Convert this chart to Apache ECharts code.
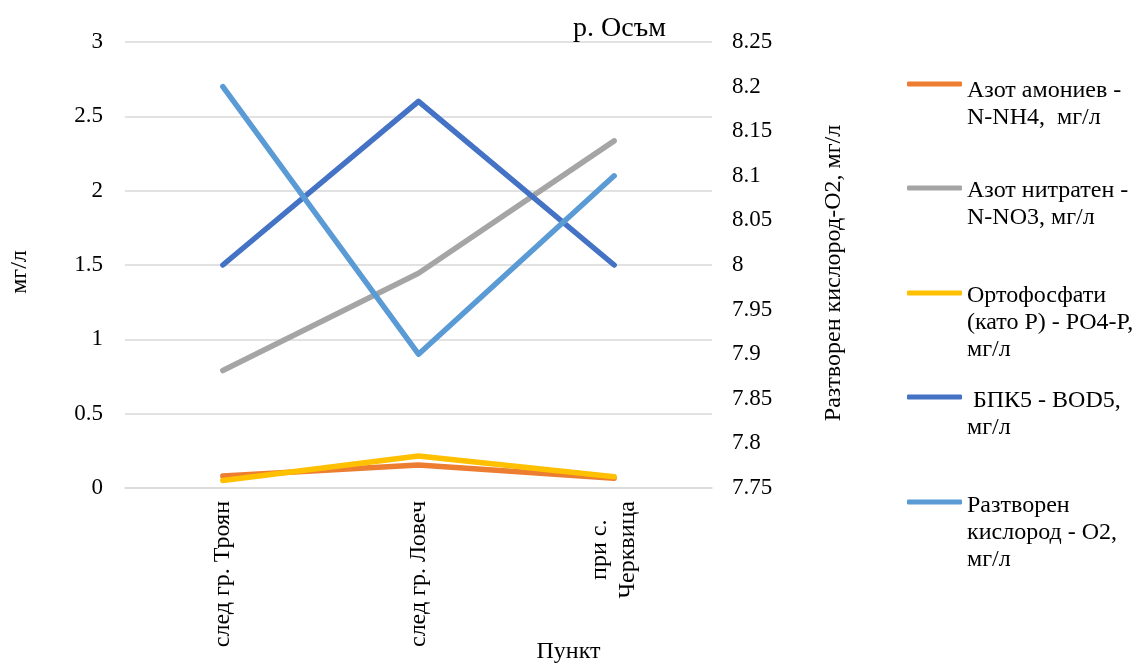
<!DOCTYPE html>
<html>
<head>
<meta charset="utf-8">
<script src="https://cdn.jsdelivr.net/npm/echarts@6/dist/echarts.min.js"></script>
<style>html,body{margin:0;padding:0;background:#fff;}#c{width:1143px;height:667px;}</style>
</head>
<body>
<div id="c"></div>
<script>
const categories = ['след гр. Троян', 'след гр. Ловеч', 'при с.\nЧерквица'];
const seriesNames = [
  'Азот амониев - N-NH4,  мг/л',
  'Азот нитратен - N-NO3, мг/л',
  'Ортофосфати (като P) - PO4-P, мг/л',
  ' БПК5 - BOD5, мг/л',
  'Разтворен кислород - O2, мг/л'
];
const legendLabels = [
  'Азот амониев -\nN-NH4,  мг/л',
  'Азот нитратен -\nN-NO3, мг/л',
  'Ортофосфати\n(като P) - PO4-P,\nмг/л',
  ' БПК5 - BOD5,\nмг/л',
  'Разтворен\nкислород - O2,\nмг/л'
];
const ammonium = [0.08, 0.155, 0.065];
const nitrate = [0.79, 1.445, 2.335];
const phosphate = [0.05, 0.215, 0.075];
const bod5 = [1.5, 2.6, 1.5];
const oxygen = [8.2, 7.9, 8.1];
const colors = ['#ED7D31', '#A5A5A5', '#FFC000', '#4472C4', '#5B9BD5'];

const FONT = '"Liberation Serif", "Times New Roman", serif';
const FS = 24;
const LH = 27;
const iconY = [84, 188, 293, 397, 502];
const dOff = [7, 3, 3, 4, 4];

const legends = legendLabels.map((lab, i) => {
  const lines = lab.split('\n');
  const n = lines.length;
  const S = (n - 1) * LH + 2 * dOff[i];
  const H = n * LH + S;
  return {
    data: [seriesNames[i]],
    left: 907,
    top: iconY[i] - H / 2,
    orient: 'vertical',
    padding: 0,
    itemWidth: 55,
    itemHeight: 5,
    itemGap: 0,
    icon: 'roundRect',
    selectedMode: false,
    formatter: () => '{s| }\n' + lines.map(l => '{t|' + l + '}').join('\n'),
    textStyle: {
      fontFamily: FONT, fontSize: FS, color: '#000',
      rich: {
        s: { fontSize: 2, lineHeight: S, height: S },
        t: { fontFamily: FONT, fontSize: FS, color: '#000', lineHeight: LH }
      }
    }
  };
});

const mkLine = (i, data, yIdx) => ({
  name: seriesNames[i],
  type: 'line',
  yAxisIndex: yIdx,
  data: data,
  showSymbol: false,
  symbol: 'none',
  color: colors[i],
  lineStyle: { width: 5.5, color: colors[i], cap: 'round', join: 'round' },
  emphasis: { disabled: true },
  animation: false
});

const chart = echarts.init(document.getElementById('c'), null, { renderer: 'canvas' });
chart.setOption({
  backgroundColor: '#fff',
  animation: false,
  title: {
    text: 'р. Осъм',
    left: 573, top: 15,
    padding: 0,
    textStyle: { fontFamily: FONT, fontSize: 28, fontWeight: 'normal', color: '#000' }
  },
  legend: legends,
  grid: { left: 125, right: 431, top: 42, bottom: 179, containLabel: false, outerBoundsMode: 'none' },
  xAxis: {
    type: 'category',
    data: categories,
    boundaryGap: true,
    name: 'Пункт',
    nameLocation: 'middle',
    nameGap: 152,
    nameMoveOverlap: false,
    nameTextStyle: { fontFamily: FONT, fontSize: FS, color: '#000', padding: [0, 0, 0, 300] },
    axisLine: { show: true, lineStyle: { color: '#d9d9d9', width: 1.5 } },
    axisTick: { show: false },
    axisLabel: {
      rotate: 90, margin: 13, interval: 0, hideOverlap: false,
      fontFamily: FONT, fontSize: FS, color: '#000', lineHeight: 28,
      formatter: v => v.split('\n').map(s => '{c|' + s + '}').join('\n'),
      rich: { c: { align: 'center', fontFamily: FONT, fontSize: FS, color: '#000', lineHeight: 28 } }
    },
    splitLine: { show: false }
  },
  yAxis: [
    {
      type: 'value', min: 0, max: 3, interval: 0.5,
      name: 'мг/л', nameLocation: 'middle', nameGap: 93,
      nameMoveOverlap: false,
      nameTextStyle: { fontFamily: FONT, fontSize: FS, color: '#000', padding: [0, 14, 0, 0] },
      axisLine: { show: false }, axisTick: { show: false },
      axisLabel: { margin: 22, fontFamily: FONT, fontSize: 23, color: '#000' },
      splitLine: { show: true, lineStyle: { color: '#d9d9d9', width: 1.5 } }
    },
    {
      type: 'value', min: 7.75, max: 8.25, interval: 0.05,
      position: 'right',
      name: 'Разтворен кислород-O2, мг/л', nameLocation: 'middle', nameGap: 110,
      nameMoveOverlap: false,
      nameTextStyle: { fontFamily: FONT, fontSize: FS, color: '#000', padding: [0, 16, 0, 0] },
      axisLine: { show: false }, axisTick: { show: false },
      axisLabel: { margin: 20, fontFamily: FONT, fontSize: 23, color: '#000',
        formatter: v => String(Math.round(v * 100) / 100) },
      splitLine: { show: false }
    }
  ],
  series: [
    mkLine(0, ammonium, 0),
    mkLine(1, nitrate, 0),
    mkLine(2, phosphate, 0),
    mkLine(3, bod5, 0),
    mkLine(4, oxygen, 1)
  ]
});
</script>
</body>
</html>
